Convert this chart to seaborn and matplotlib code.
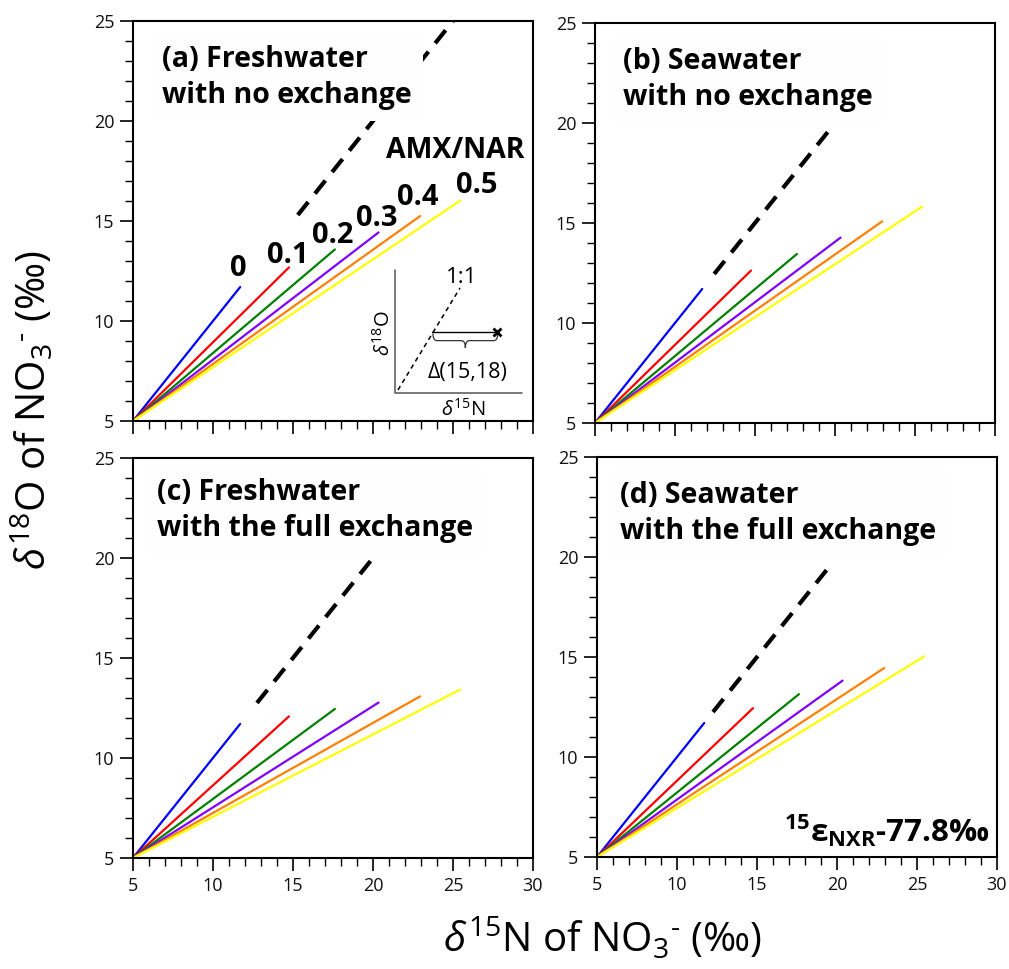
import matplotlib
matplotlib.use('Agg')
import matplotlib.pyplot as plt
import seaborn as sns
import pandas as pd
from matplotlib.path import Path
from matplotlib.patches import PathPatch
from matplotlib.ticker import MultipleLocator

# AMX/NAR ratios and the colour of each model line
ratios = ['0', '0.1', '0.2', '0.3', '0.4', '0.5']
line_colors = ['#0000ff', '#ff0000', '#008000', '#8000ff', '#ff8000', '#ffff00']

# every model line starts at (5, 5)
start_value = 5.0
d15n_end = [11.7, 14.75, 17.62, 20.35, 22.95, 25.45]

# d18O at the end of each line, per panel
d18o_end_a = [11.7, 12.68, 13.58, 14.43, 15.25, 16.02]
d18o_end_b = [11.7, 12.62, 13.45, 14.27, 15.08, 15.82]
d18o_end_c = [11.7, 12.08, 12.45, 12.77, 13.08, 13.42]
d18o_end_d = [11.7, 12.44, 13.14, 13.82, 14.45, 15.03]

# 1:1 dashed segment (start, end) per panel
one2one_a = [15.3, 25.0]
one2one_b = [12.45, 19.85]
one2one_c = [12.75, 20.1]
one2one_d = [12.25, 19.7]

titles = ['(a) Freshwater\nwith no exchange',
          '(b) Seawater\nwith no exchange',
          '(c) Freshwater\nwith the full exchange',
          '(d) Seawater\nwith the full exchange']

# ratio labels in panel (a)
label_x = [11.6, 14.67, 17.47, 20.24, 22.8, 26.5]
label_y = [12.63, 13.3, 14.3, 15.13, 16.2, 16.8]

sns.set_style('ticks')
plt.rcParams['font.family'] = ['Open Sans', 'DejaVu Sans']
plt.rcParams['text.color'] = 'black'
plt.rcParams['mathtext.fontset'] = 'custom'
plt.rcParams['mathtext.rm'] = 'Open Sans'
plt.rcParams['mathtext.it'] = 'Open Sans:italic'
plt.rcParams['mathtext.bf'] = 'Open Sans:bold'


def model_frame(y_end):
    rows = []
    for r, xe, ye in zip(ratios, d15n_end, y_end):
        rows.append({'ratio': r, 'd15N': start_value, 'd18O': start_value})
        rows.append({'ratio': r, 'd15N': xe, 'd18O': ye})
    return pd.DataFrame(rows)


fig = plt.figure(figsize=(10.09, 9.69), dpi=100)
positions = [[0.1318, 0.5655, 0.3964, 0.4128],
             [0.5897, 0.5635, 0.3964, 0.4128],
             [0.1318, 0.1146, 0.3964, 0.4128],
             [0.5917, 0.1156, 0.3964, 0.4128]]
ends = [d18o_end_a, d18o_end_b, d18o_end_c, d18o_end_d]
dashed = [one2one_a, one2one_b, one2one_c, one2one_d]
title_pos = [(0.073, 0.94), (0.07, 0.94), (0.06, 0.95), (0.058, 0.94)]

axes = []
for i in range(4):
    ax = fig.add_axes(positions[i])
    axes.append(ax)
    df = model_frame(ends[i])
    sns.lineplot(data=df, x='d15N', y='d18O', hue='ratio', hue_order=ratios,
                 palette=line_colors, estimator=None, sort=False, legend=False,
                 linewidth=1.6, ax=ax)
    ax.plot(dashed[i], dashed[i], color='black', lw=3.0, ls=(0, (4, 2.6)),
            solid_capstyle='butt', dash_capstyle='butt')
    ax.set_xlim(5, 30)
    ax.set_ylim(5, 25)
    ax.xaxis.set_major_locator(MultipleLocator(5))
    ax.xaxis.set_minor_locator(MultipleLocator(1))
    ax.yaxis.set_major_locator(MultipleLocator(5))
    ax.yaxis.set_minor_locator(MultipleLocator(1))
    ax.tick_params(which='major', length=9.5, width=1.2, labelsize=13, pad=4,
                   color='black', labelcolor='#111111')
    ax.tick_params(which='minor', length=5.5, width=1.0, color='black')
    ax.tick_params(axis='x', labelbottom=(i >= 2))
    for s in ax.spines.values():
        s.set_linewidth(1.5)
        s.set_color('black')
        s.set_visible(True)
    ax.set_xlabel('')
    ax.set_ylabel('')
    ax.text(title_pos[i][0], title_pos[i][1], titles[i], transform=ax.transAxes,
            ha='left', va='top', fontsize=20.5, fontweight='bold', linespacing=1.3,
            bbox=dict(facecolor='#fefefe', edgecolor='none', pad=8), zorder=5)

# ratio labels in panel (a)
ax = axes[0]
for lab, x, y in zip(ratios, label_x, label_y):
    ax.text(x, y, lab, ha='center', va='center', fontsize=21, fontweight='bold')
ax.text(25.17, 18.55, 'AMX/NAR', ha='center', va='center', fontsize=20.5,
        fontweight='bold')

# schematic inset in panel (a)
ax.plot([21.38, 21.38, 29.31], [12.55, 6.4, 6.4], color='#555555', lw=1.1)
ax.plot([21.56, 25.44], [6.55, 11.65], color='black', lw=1.1, ls=(0, (3, 2.5)))
ax.plot([23.69, 27.75], [9.45, 9.45], color='black', lw=1.0)
ax.plot([27.75], [9.45], marker='x', color='black', ms=6, mew=2)
bx0, bx1, by, bh = 23.75, 27.8, 9.38, 0.72
bxm = (bx0 + bx1) / 2
q = 0.25
verts = [(bx0, by), (bx0, by - bh / 2), (bx0 + q, by - bh / 2),
         (bxm - q, by - bh / 2), (bxm, by - bh / 2), (bxm, by - bh),
         (bxm, by - bh / 2), (bxm + q, by - bh / 2),
         (bx1 - q, by - bh / 2), (bx1, by - bh / 2), (bx1, by)]
codes = [Path.MOVETO, Path.CURVE3, Path.CURVE3, Path.LINETO, Path.CURVE3,
         Path.CURVE3, Path.CURVE3, Path.CURVE3, Path.LINETO, Path.CURVE3,
         Path.CURVE3]
ax.add_patch(PathPatch(Path(verts, codes), facecolor='none', edgecolor='#333333',
                       lw=0.9))
ax.text(25.56, 12.2, '1:1', ha='center', va='center', fontsize=16)
ax.text(25.9, 7.45, 'Δ(15,18)', ha='center', va='center', fontsize=15.5)
ax.text(20.7, 9.4, r'$\delta^{18}$O', ha='center', va='center', fontsize=14.5,
        rotation=90)
ax.text(25.63, 5.55, r'$\delta^{15}$N', ha='center', va='center', fontsize=14.5)

# epsilon note in panel (d)
axes[3].text(0.982, 0.0375, r'$^{\mathbf{15}}$ε$_{\mathbf{NXR}}$-77.8‰',
             transform=axes[3].transAxes, ha='right', va='baseline', fontsize=22.5,
             fontweight='bold')

fig.text(0.033, 0.577, r'$\delta^{18}$O of NO$_3$$^{\text{-}}$ (‰)', rotation=90,
         ha='center', va='center', fontsize=29)
fig.text(0.597, 0.031, r'$\delta^{15}$N of NO$_3$$^{\text{-}}$ (‰)', ha='center',
         va='center', fontsize=29)

fig.savefig('out.png', dpi=100)
